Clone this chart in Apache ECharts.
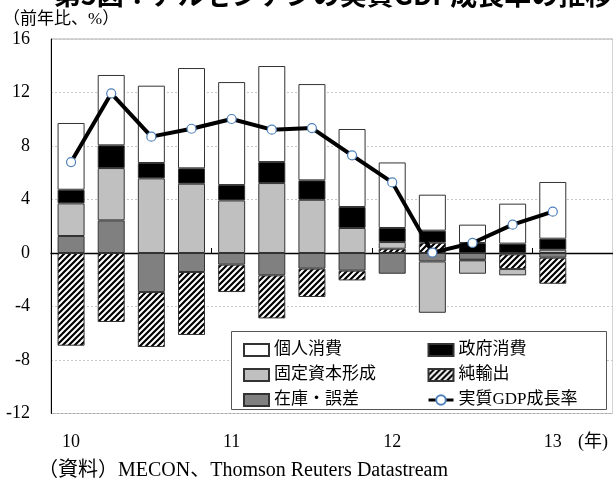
<!DOCTYPE html>
<html>
<head>
<meta charset="utf-8">
<script src="https://cdn.jsdelivr.net/npm/echarts@6/dist/echarts.min.js"></script>
<style>html,body{margin:0;padding:0;background:#fff;}#c{width:613px;height:484px;}</style>
</head>
<body>
<div id="c"></div>
<script>
// ---- data ----
const categories = ['10Q1','10Q2','10Q3','10Q4','11Q1','11Q2','11Q3','11Q4','12Q1','12Q2','12Q3','12Q4','13Q1','13Q2'];
const yearLabels = ['10','','','','11','','','','12','','','','13',''];
const inventory  = [1.27, 2.44, -2.92, -1.42, -0.87, -1.67, -1.17, -1.32, -1.55, -0.63, -0.50, -0.10, -0.35, null];
const netExports = [-6.93, -5.16, -4.11, -4.71, -2.05, -3.22, -2.12, -0.73, 0.32, 0.77, -0.05, -1.10, -1.95, null];
const fixedCap   = [2.44, 3.91, 5.58, 5.18, 3.93, 5.23, 3.98, 1.87, 0.50, -3.84, -1.00, -0.47, 0.25, null];
const govCons    = [1.02, 1.70, 1.15, 1.15, 1.15, 1.57, 1.45, 1.57, 1.05, 0.90, 0.75, 0.70, 0.82, null];
const privCons   = [4.99, 5.26, 5.78, 7.50, 7.70, 7.18, 7.20, 5.83, 4.90, 2.69, 1.37, 2.99, 4.24, null];
const gdpGrowth  = [6.80, 11.93, 8.70, 9.29, 10.02, 9.22, 9.34, 7.30, 5.28, 0.03, 0.75, 2.12, 3.09, null];
const yTicks = {min: -12, max: 16, interval: 4};

// ---- hatch pattern ----
const pc = document.createElement('canvas');
pc.width = 6; pc.height = 6;
const g = pc.getContext('2d');
g.fillStyle = '#fff'; g.fillRect(0,0,6,6);
g.strokeStyle = '#000'; g.lineWidth = 2.2; g.lineCap = 'square';
g.beginPath();
g.moveTo(-1,1); g.lineTo(1,-1);
g.moveTo(0,6); g.lineTo(6,0);
g.moveTo(5,7); g.lineTo(7,5);
g.stroke();
const hatch = {image: pc, repeat: 'repeat'};

const serif = 'Liberation Serif, "Times New Roman", "Noto Sans CJK JP", serif';
const border = '#333';
function barSeries(name, data, color) {
  return {
    name: name, type: 'bar', stack: 'g', data: data, barWidth: 27,
    itemStyle: {color: color, borderColor: border, borderWidth: 1},
    emphasis: {disabled: true}
  };
}
const legendText = {fontFamily: serif, fontSize: 17, color: '#000', lineHeight: 20};

const chart = echarts.init(document.getElementById('c'), null, {renderer: 'canvas'});
chart.setOption({
  animation: false,
  backgroundColor: '#fff',
  grid: {left: 51, right: -4, top: 39, bottom: 70.5, show: true, borderColor: '#aaa', borderWidth: 1, backgroundColor: 'transparent'},
  xAxis: [
    {
      type: 'category', data: categories, position: 'bottom',
      axisLine: {onZero: true, lineStyle: {color: '#000', width: 1.3}},
      axisTick: {show: true, inside: true, length: 5, interval: 3, lineStyle: {color: '#000'}},
      axisLabel: {show: false},
      splitLine: {show: false}
    },
    {
      type: 'category', data: categories, position: 'bottom',
      axisLine: {show: false, onZero: false},
      axisTick: {show: false},
      axisLabel: {show: true, interval: 0, margin: 20, color: '#000', fontFamily: serif, fontSize: 18,
        formatter: function (v, i) { return yearLabels[i]; }},
      splitLine: {show: false}
    }
  ],
  yAxis: {
    type: 'value', min: yTicks.min, max: yTicks.max, interval: yTicks.interval,
    axisLine: {show: true, onZero: false, lineStyle: {color: '#000', width: 1}},
    axisTick: {show: false},
    axisLabel: {color: '#000', fontFamily: serif, fontSize: 18, margin: 21},
    splitLine: {show: true, lineStyle: {color: '#c8c8c8', type: [2, 2], width: 1}}
  },
  legend: [
    {
      orient: 'vertical', left: 243, top: 340, padding: 0, itemGap: 5, z: 10,
      itemWidth: 25, itemHeight: 12, textStyle: legendText,
      data: [{name: '個人消費', icon: 'rect'}, {name: '固定資本形成', icon: 'rect'}, {name: '在庫・誤差', icon: 'rect'}],
      selectedMode: false
    },
    {
      orient: 'vertical', left: 427, top: 340, padding: 0, itemGap: 5, z: 10,
      itemWidth: 25, itemHeight: 12, textStyle: legendText,
      lineStyle: {width: 3},
      data: [{name: '政府消費', icon: 'rect'}, {name: '純輸出', icon: 'rect'}, {name: '実質GDP成長率'}],
      selectedMode: false
    }
  ],
  graphic: [
    {type: 'rect', left: 231, top: 331, shape: {x: 0, y: 0, width: 375, height: 78},
     style: {fill: '#fff', stroke: '#555', lineWidth: 1}, z: 3},
    {type: 'text', x: 333, y: -5, z: 10,
     style: {text: '第5図：アルゼンチンの実質GDP成長率の推移', fontFamily: '"Noto Sans CJK JP", sans-serif', fontWeight: 'bold', fontSize: 27, fill: '#000', align: 'center', verticalAlign: 'middle'}},
    {type: 'text', x: 3, y: 20, z: 10,
     style: {text: '（前年比、%）', fontFamily: serif, fontSize: 17, fill: '#000', align: 'left', verticalAlign: 'middle'}},
    {type: 'text', x: 578, y: 442, z: 10,
     style: {text: '(年)', fontFamily: serif, fontSize: 18, fill: '#000', align: 'left', verticalAlign: 'middle'}},
    {type: 'text', x: 38, y: 471, z: 10,
     style: {text: '（資料）MECON、Thomson Reuters Datastream', fontFamily: serif, fontSize: 20, fill: '#000', align: 'left', verticalAlign: 'middle'}}
  ],
  series: [
    barSeries('在庫・誤差', inventory, '#808080'),
    barSeries('純輸出', netExports, hatch),
    barSeries('固定資本形成', fixedCap, '#c0c0c0'),
    barSeries('政府消費', govCons, '#000'),
    barSeries('個人消費', privCons, '#fff'),
    {
      name: '実質GDP成長率', type: 'line', data: gdpGrowth, z: 10,
      symbol: 'circle', symbolSize: 9, showSymbol: true,
      lineStyle: {color: '#000', width: 4},
      itemStyle: {color: '#fff', borderColor: '#4f81bd', borderWidth: 1.2},
      emphasis: {disabled: true}
    }
  ]
});
</script>
</body>
</html>
